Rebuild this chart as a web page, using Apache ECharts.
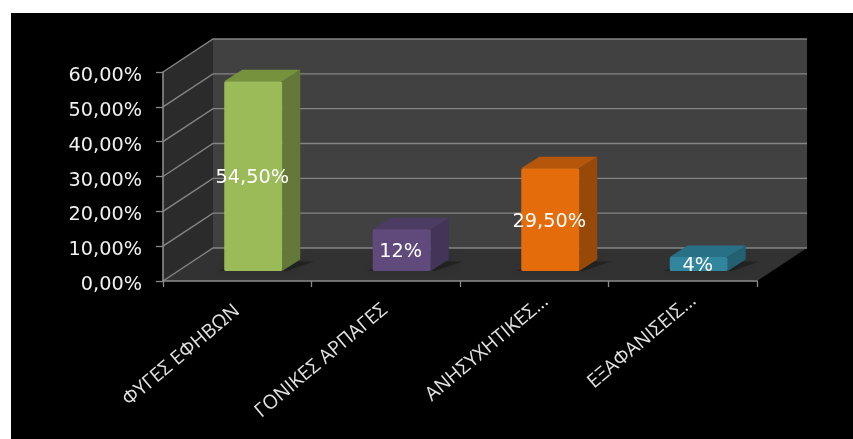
<!DOCTYPE html>
<html><head><meta charset="utf-8">
<style>
html,body{margin:0;padding:0;background:#fff;width:853px;height:439px;overflow:hidden}
#w{position:absolute;left:11px;top:13px;width:842px;height:426px;background:#000;overflow:hidden}
#c{width:842px;height:426px;filter:blur(0.55px)}
</style>
<script src="https://cdn.jsdelivr.net/npm/echarts@6/dist/echarts.min.js"></script>
</head><body><div id="w"><div id="c"></div></div>
<script>
const categories = ['ΦΥΓΕΣ ΕΦΗΒΩΝ','ΓΟΝΙΚΕΣ ΑΡΠΑΓΕΣ','ΑΝΗΣΥΧΗΤΙΚΕΣ...','ΕΞΑΦΑΝΙΣΕΙΣ...'];
const values = [54.5,12,29.5,4];
const valueLabels = ['54,50%','12%','29,50%','4%'];
const yTicks = [0,10,20,30,40,50,60];
const frontColors = ['#9bbb59','#604a7b','#e46c0a','#31859c'];
const topColors = ['#76923c','#4c3b63','#b5560a','#277085'];
const sideColors = ['#64783a','#433558','#974a07','#226072'];

const DX=50, DY=-33, BX=16, BY=-10, BDX=18, BDY=-11.5, BW=58;
const GRID='#858585';
const labelLift=[36,33,36,34];
const labelTail=['\u00a0\u00a0\u00a0','\u00a0\u00a0\u00a0','',''];

function poly(points, fill){
  return {type:'polygon',shape:{points},style:{fill}};
}
function renderChrome(params, api){
  const v=api.value(0);
  const band=api.size([1,0])[0];
  const p=api.coord([0,v]);
  const x0=p[0]-band/2, y=p[1];
  const x1=x0+band*categories.length;
  const children=[];
  if(v===yTicks[0]){
    const top=api.coord([0,yTicks[yTicks.length-1]])[1];
    children.push(poly([[x0+DX,y+DY],[x1+DX,y+DY],[x1+DX,top+DY],[x0+DX,top+DY]],'#414141'));
    children.push(poly([[x0,y],[x0+DX,y+DY],[x0+DX,top+DY],[x0,top]],'#2b2b2b'));
    children.push(poly([[x0,y],[x1,y],[x1+DX,y+DY],[x0+DX,y+DY]],'#323232'));
  }
  children.push({type:'polyline',shape:{points:[[x0,y],[x0+DX,y+DY],[x1+DX,y+DY]]},
    style:{stroke:GRID,fill:null,lineWidth:1.4}});
  return {type:'group',children};
}
function renderBar(params, api){
  const i=api.value(0), v=api.value(1);
  const p0=api.coord([i,0]), p1=api.coord([i,v]);
  const xL=p0[0]+BX-BW/2, xR=xL+BW, yB=p0[1]+BY, yT=p1[1]+BY;
  const shadow={type:'polygon',
    shape:{points:[[xL-6,yB],[xR+4,yB],[xR+BDX+14,yB+BDY+2],[xL+BDX,yB+BDY+2]]},
    style:{fill:'rgba(0,0,0,0.28)',shadowBlur:10,shadowColor:'rgba(0,0,0,0.45)'}};
  return {type:'group',children:[
    shadow,
    poly([[xR,yB],[xR+BDX,yB+BDY],[xR+BDX,yT+BDY],[xR,yT]],sideColors[i]),
    poly([[xL,yT],[xR,yT],[xR+BDX,yT+BDY],[xL+BDX,yT+BDY]],topColors[i]),
    {type:'rect',shape:{x:xL,y:yT,width:BW,height:yB-yT,r:1.5},style:{fill:frontColors[i]}},
    {type:'text',x:xL+BW/2-1,y:(yT+yB)/2+2,style:{text:valueLabels[i],fill:'#fff',
      font:'19.3px "DejaVu Sans"',align:'center',verticalAlign:'middle'}}
  ]};
}
const chart=echarts.init(document.getElementById('c'),null,{renderer:'canvas'});
chart.setOption({
  animation:false,
  backgroundColor:'#000',
  grid:{left:152,top:59,width:594,height:209},
  xAxis:{type:'category',
    data:categories.map((c,i)=>({value:c,textStyle:{verticalAlign:'top',lineHeight:labelLift[i]}})),
    boundaryGap:true,
    axisLine:{show:true,lineStyle:{color:'#8a8a8a',width:1.6}},
    axisTick:{show:true,alignWithLabel:false,length:6,lineStyle:{color:'#8a8a8a',width:1.3}},
    axisLabel:{rotate:40,interval:0,margin:4,color:'#e2e2e2',fontFamily:'Open Sans',fontSize:19.4,
      formatter:(v,i)=>v+labelTail[i]},
    z:5},
  yAxis:{type:'value',min:0,max:60,interval:10,
    axisLine:{show:true,lineStyle:{color:'#8a8a8a',width:1.6}},
    axisTick:{show:true,length:7,lineStyle:{color:'#8a8a8a',width:1.3}},
    splitLine:{show:false},
    axisLabel:{color:'#f0f0f0',fontFamily:'DejaVu Sans',fontSize:19.3,margin:21,verticalAlign:'top',lineHeight:8,
      formatter:v=>v.toFixed(2).replace('.',',')+'%'},
    z:5},
  series:[
    {type:'custom',renderItem:renderChrome,data:yTicks.map(v=>[v]),encode:{y:0},z:1,clip:false,silent:true},
    {type:'custom',renderItem:renderBar,data:values.map((v,i)=>[i,v]),encode:{x:0,y:1},z:2,clip:false,silent:true}
  ]
});
</script></body></html>
